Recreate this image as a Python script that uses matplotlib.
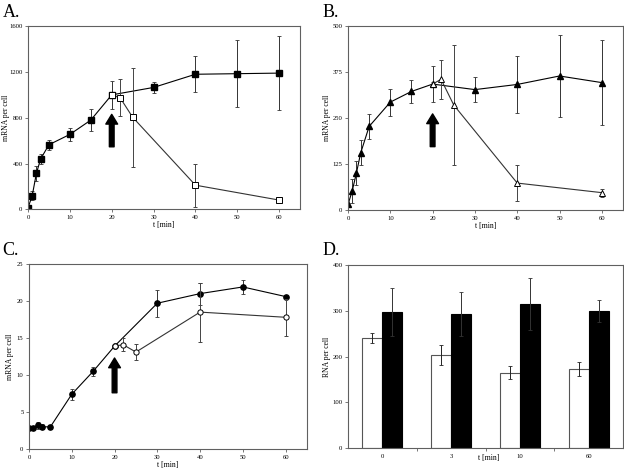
import matplotlib
matplotlib.use('Agg')
import matplotlib.pyplot as plt

plt.rcParams['font.family'] = ['Liberation Serif', 'DejaVu Serif']

# Panel A: mRNA per cell, squares
a_t = [0, 1, 2, 3, 5, 10, 15, 20, 30, 40, 50, 60]
a_on = [15, 120, 315, 440, 565, 655, 780, 1000, 1065, 1180, 1185, 1190]
a_on_err = [10, 40, 65, 45, 45, 60, 95, 120, 50, 155, 295, 325]
a_off_t = [20, 22, 25, 40, 60]
a_off = [1000, 975, 805, 212, 82]
a_off_err = [15, 163, 430, 188, 20]

# Panel B: triangles
b_t = [0, 1, 2, 3, 5, 10, 15, 20, 30, 40, 50, 60]
b_on = [15, 52, 101, 155, 227, 293, 322, 342, 327, 341, 364, 346]
b_on_err = [5, 33, 33, 34, 35, 37, 32, 50, 35, 77, 112, 116]
b_off_t = [20, 22, 25, 40, 60]
b_off = [342, 355, 285, 73, 47]
b_off_err = [5, 53, 162, 50, 11]

# Panel C: circles
c_t = [0, 1, 2, 3, 5, 10, 15, 20, 30, 40, 50, 60]
c_on = [2.9, 2.9, 3.2, 3.0, 3.0, 7.4, 10.5, 13.9, 19.7, 21.0, 21.9, 20.6]
c_on_err = [0.1, 0.2, 0.45, 0.35, 0.3, 0.75, 0.6, 0.3, 1.8, 1.5, 0.9, 0.1]
c_off_t = [20, 22, 25, 40, 60]
c_off = [13.9, 14.1, 13.1, 18.5, 17.8]
c_off_err = [0.3, 0.9, 1.1, 4.0, 2.5]

# Panel D: bars
d_labels = ['0', '3', '10', '60']
d_white = [240, 203, 165, 173]
d_white_err = [11, 22, 14, 15]
d_black = [297, 292, 315, 300]
d_black_err = [53, 48, 56, 24]

fig = plt.figure(figsize=(6.24, 4.75), dpi=100)

SPINE = '#606060'
TICKFS = 4.8


def style_axes(ax):
    for s in ax.spines.values():
        s.set_color(SPINE)
        s.set_linewidth(0.8)
    ax.tick_params(direction='out', length=2, width=0.6, color=SPINE,
                   labelsize=TICKFS, pad=2)


def set_ylab(ax, text, x):
    ax.set_ylabel(text, fontsize=5.5, va='center')
    ax.yaxis.set_label_coords(x, 0.5)


def time_panel(rect, t, on, on_err, t2, off, off_err, marker, ylim, yticks,
               arrow, letter, letter_xy, ylab_x):
    ax = fig.add_axes(rect)
    ax.errorbar(t, on, yerr=on_err, fmt='-', color='k', lw=0.8, ecolor='#333333',
                elinewidth=0.7, capsize=1.5, capthick=0.6, marker=marker,
                ms=3.8, mfc='k', mec='k', zorder=2)
    ax.errorbar(t2, off, yerr=off_err, fmt='-', color='#333333', lw=0.8,
                ecolor='#444444', elinewidth=0.7, capsize=1.5, capthick=0.6,
                marker=marker, ms=3.8, mfc='white', mec='k', mew=0.7, zorder=3)
    ax.annotate('', xy=(20, arrow[1]), xytext=(20, arrow[0]),
                arrowprops=dict(width=3.4, headwidth=8.5, headlength=7,
                                color='k', shrink=0))
    ax.set_xlim(0, 65)
    ax.set_xticks(range(0, 61, 10))
    ax.set_ylim(*ylim)
    ax.set_yticks(yticks)
    ax.set_xlabel('t [min]', fontsize=5.5, labelpad=1)
    set_ylab(ax, 'mRNA per cell', ylab_x)
    style_axes(ax)
    fig.text(letter_xy[0], letter_xy[1], letter, fontsize=13,
             ha='left', va='center')
    return ax


time_panel([0.0449, 0.559, 0.436, 0.386], a_t, a_on, a_on_err, a_off_t, a_off,
           a_off_err, 's', (0, 1600), [0, 400, 800, 1200, 1600], (547, 830),
           'A.', (0.005, 0.973), -0.082)
time_panel([0.5577, 0.558, 0.4407, 0.3874], b_t, b_on, b_on_err, b_off_t, b_off,
           b_off_err, '^', (0, 500), [0, 125, 250, 375, 500], (172, 261),
           'B.', (0.517, 0.973), -0.076)
time_panel([0.0465, 0.0547, 0.4455, 0.3895], c_t, c_on, c_on_err, c_off_t, c_off,
           c_off_err, 'o', (0, 25), [0, 5, 10, 15, 20, 25], (7.6, 12.3),
           'C.', (0.003, 0.473), -0.068)

# Panel D
ax = fig.add_axes([0.5577, 0.0568, 0.4407, 0.3853])
pos = list(range(len(d_labels)))
w = 0.29
ax.bar([p - w / 2 for p in pos], d_white, w, color='white', edgecolor='#555555',
       lw=0.8, yerr=d_white_err, ecolor='#222222',
       error_kw=dict(elinewidth=0.7, capsize=1.5, capthick=0.6))
ax.bar([p + w / 2 for p in pos], d_black, w, color='black', edgecolor='black',
       lw=0.8, yerr=d_black_err, ecolor='#333333',
       error_kw=dict(elinewidth=0.7, capsize=1.5, capthick=0.6))
ax.set_xlim(-0.5, 3.5)
ax.set_ylim(0, 400)
ax.set_yticks([0, 100, 200, 300, 400])
ax.set_xticks([0.5, 1.5, 2.5])
ax.set_xticklabels([])
ax.set_xticks(pos, minor=True)
ax.set_xticklabels(d_labels, minor=True)
set_ylab(ax, 'RNA per cell', -0.076)
style_axes(ax)
ax.tick_params(axis='x', which='minor', length=0, labelsize=TICKFS, pad=4)
ax.text(0.513, -0.03, 't [min]', transform=ax.transAxes, fontsize=5.5,
        ha='center', va='top')
fig.text(0.517, 0.473, 'D.', fontsize=13, ha='left', va='center')

fig.savefig('out.png', dpi=100)
